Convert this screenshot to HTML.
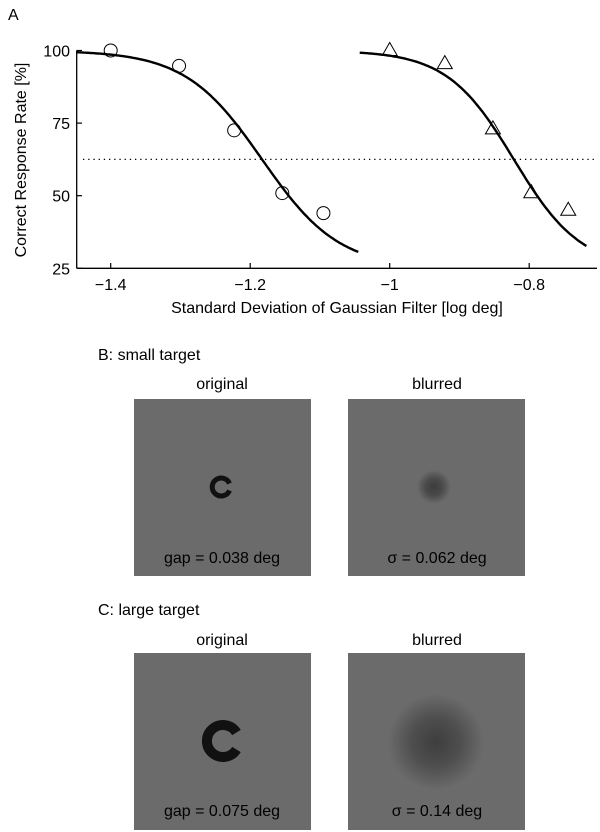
<!DOCTYPE html>
<html><head><meta charset="utf-8"><style>
body{margin:0;background:#fff;}
svg{display:block;font-family:"Liberation Sans",Arial,sans-serif;}
</style></head><body>
<svg id="fig" width="600" height="832" viewBox="0 0 600 832">
<defs>
<radialGradient id="blurS"><stop offset="0" stop-color="#3c3c3c"/><stop offset="0.5" stop-color="#4a4a4a"/><stop offset="1" stop-color="#6b6b6b"/></radialGradient>
<radialGradient id="blurL"><stop offset="0" stop-color="#3e3e3e"/><stop offset="0.5" stop-color="#4e4e4e"/><stop offset="1" stop-color="#6b6b6b"/></radialGradient>
</defs>
<text x="8" y="20" font-size="16">A</text>
<g id="chart"></g>
<text x="98" y="360" font-size="16">B: small target</text>
<text x="222" y="389" font-size="16" text-anchor="middle">original</text>
<text x="437" y="389" font-size="16" text-anchor="middle">blurred</text>
<rect x="134" y="399" width="177" height="177" fill="#6b6b6b"/>
<rect x="348" y="399" width="177" height="177" fill="#6b6b6b"/>
<path d="M229.5,483.5 A9,9 0 1 0 229.5,490.5" fill="none" stroke="#111" stroke-width="5"/>
<circle cx="434" cy="487" r="17" fill="url(#blurS)"/>
<text x="222" y="563" font-size="16" text-anchor="middle">gap = 0.038 deg</text>
<text x="437" y="563" font-size="16" text-anchor="middle">σ = 0.062 deg</text>
<text x="98" y="615" font-size="16">C: large target</text>
<text x="222" y="645" font-size="16" text-anchor="middle">original</text>
<text x="437" y="645" font-size="16" text-anchor="middle">blurred</text>
<rect x="134" y="653" width="177" height="177" fill="#6b6b6b"/>
<rect x="348" y="653" width="177" height="177" fill="#6b6b6b"/>
<path d="M236.5,732.5 A16,16 0 1 0 236.5,749.5" fill="none" stroke="#111" stroke-width="10"/>
<circle cx="436" cy="742" r="48" fill="url(#blurL)"/>
<text x="222" y="816" font-size="16" text-anchor="middle">gap = 0.075 deg</text>
<text x="437" y="816" font-size="16" text-anchor="middle">σ = 0.14 deg</text>
</svg>
<script>
const circleX = [-1.4, -1.302, -1.223, -1.154, -1.095];
const circleY = [100, 94.7, 72.5, 50.9, 44.0];
const triX = [-1.0, -0.921, -0.852, -0.797, -0.744];
const triY = [100, 95.5, 73, 51, 45];
const fitLeft = [-1.183, 0.055, -1.449, -1.045];
const fitRight = [-0.822, 0.048, -1.043, -0.718];
const xTicks = [-1.4, -1.2, -1, -0.8];
const xTickLabels = ["\u22121.4", "\u22121.2", "\u22121", "\u22120.8"];
const yTicks = [25, 50, 75, 100];
const threshold = 62.5;

const NS = "http://www.w3.org/2000/svg";
const g = document.getElementById("chart");
const X = v => 110.7 + (v + 1.4) * 697.5;
const Y = v => 268.3 - (v - 25) * 2.904;
function mk(tag, attrs, parent) {
  const e = document.createElementNS(NS, tag);
  for (const k in attrs) e.setAttribute(k, attrs[k]);
  (parent || g).appendChild(e);
  return e;
}
let e;
e = mk("line", {x1: 76.7, y1: 268.3, x2: 597, y2: 268.3, stroke: "#000", "stroke-width": 1.3});


e = mk("line", {x1: 76.7, y1: 268.3, x2: 76.7, y2: Y(100), stroke: "#000", "stroke-width": 1.3});


xTicks.forEach((t, i) => {
  e = mk("line", {x1: X(t), y1: 268.3, x2: X(t), y2: 263, stroke: "#000", "stroke-width": 1.2});
  
  
  e = mk("text", {x: X(t), y: 290, "font-size": 16, "text-anchor": "middle"});
  e.textContent = xTickLabels[i];
  
  
});
yTicks.forEach(t => {
  e = mk("line", {x1: 76.7, y1: Y(t), x2: 82, y2: Y(t), stroke: "#000", "stroke-width": 1.2});
  
  
  e = mk("text", {x: 70, y: Y(t) + 6, "font-size": 16, "text-anchor": "end"});
  e.textContent = String(t);
  
  
});
e = mk("text", {x: 337, y: 313, "font-size": 16, "text-anchor": "middle"});
e.textContent = "Standard Deviation of Gaussian Filter [log deg]";


e = mk("text", {x: 0, y: 0, "font-size": 16, "text-anchor": "middle", transform: "translate(26,160) rotate(-90)"});
e.textContent = "Correct Response Rate [%]";


e = mk("line", {x1: 83, y1: Y(threshold), x2: 597, y2: Y(threshold), stroke: "#000", "stroke-width": 1.3, "stroke-dasharray": "1.3 3.9"});


function fitPath(p) {
  let d = "";
  for (let i = 0; i <= 120; i++) {
    const v = p[2] + (p[3] - p[2]) * i / 120;
    const y = 25 + 75 / (1 + Math.exp((v - p[0]) / p[1]));
    d += (i ? "L" : "M") + X(v).toFixed(1) + "," + Y(y).toFixed(1);
  }
  return d;
}
e = mk("path", {d: fitPath(fitLeft), fill: "none", stroke: "#000", "stroke-width": 2.4});


e = mk("path", {d: fitPath(fitRight), fill: "none", stroke: "#000", "stroke-width": 2.4});


circleX.forEach((v, i) => {
  e = mk("circle", {cx: X(v), cy: Y(circleY[i]), r: 6.5, fill: "none", stroke: "#000", "stroke-width": 1});
  
  
});
triX.forEach((v, i) => {
  const cx = X(v), cy = Y(triY[i]);
  e = mk("polygon", {points: `${cx},${cy - 8} ${cx - 7.5},${cy + 5} ${cx + 7.5},${cy + 5}`, fill: "none", stroke: "#000", "stroke-width": 1});
  
  
});
</script>
</body></html>
